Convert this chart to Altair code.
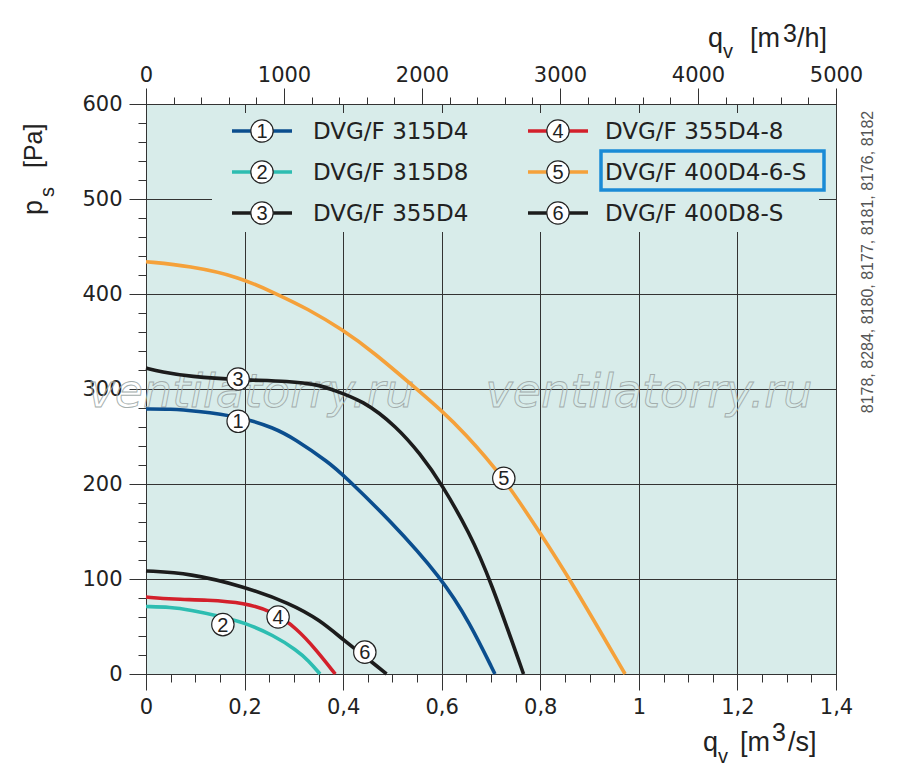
import altair as alt
import pandas as pd

# ---------------- data ----------------
names = ["DVG/F 315D4", "DVG/F 315D8", "DVG/F 355D4",
         "DVG/F 355D4-8", "DVG/F 400D4-6-S", "DVG/F 400D8-S"]
nums = ["1", "2", "3", "4", "5", "6"]
colors = ["#0b4e8e", "#2dbdb1", "#1c1c1c", "#d3202b", "#f5a13a", "#1c1c1c"]

q1 = [0, 0.05, 0.1, 0.19, 0.26, 0.3, 0.373, 0.4, 0.495, 0.6, 0.657, 0.708]
p1 = [279, 279, 277, 271, 259, 248, 222, 209.5, 162, 101, 54, 0]
q2 = [0, 0.05, 0.089, 0.15, 0.2, 0.258, 0.306, 0.33, 0.353]
p2 = [71, 70.5, 67.5, 61, 54, 41, 25, 14, 0]
q3 = [0, 0.03, 0.089, 0.19, 0.292, 0.353, 0.373, 0.441, 0.509, 0.556, 0.6, 0.657, 0.698, 0.766]
p3 = [322, 318, 313, 309.5, 308.5, 304, 300, 288, 260, 232, 200, 148, 100, 0]
q4 = [0, 0.055, 0.123, 0.2, 0.258, 0.306, 0.346, 0.384]
p4 = [81, 78.6, 78, 75, 65.6, 48, 25, 0]
q5 = [0, 0.089, 0.19, 0.265, 0.326, 0.4, 0.461, 0.549, 0.6, 0.644, 0.725, 0.8, 0.86, 0.972]
p5 = [434, 429.5, 418, 400, 385, 362, 339, 300, 277, 255, 207.5, 148, 100, 0]
q6 = [0, 0.089, 0.2, 0.292, 0.353, 0.4, 0.461, 0.488]
p6 = [108.5, 106, 92, 74.4, 56.8, 36, 11.5, 0]

# curve label markers (circled numbers on the curves)
lab_q = [0.187, 0.156, 0.187, 0.268, 0.726, 0.444]
lab_p = [266, 52, 310.5, 60, 206, 23]

# tick values
x_ticks = [round(i * 0.05, 2) for i in range(29)]      # m3/s
y_ticks = list(range(0, 601, 20))                        # Pa
top_ticks = list(range(0, 5001, 200))                    # m3/h

BG = "#d8ecea"
INK = "#222222"
W, H = 690, 570
QMAX, PMAX = 1.4, 600

# ---------------- tables ----------------
curves = []
for name, qs, ps in zip(names, [q1, q2, q3, q4, q5, q6], [p1, p2, p3, p4, p5, p6]):
    for i, (q, p) in enumerate(zip(qs, ps)):
        curves.append({"name": name, "q": q, "p": p, "i": i})
curves = pd.DataFrame(curves)

labels = pd.DataFrame({"name": names, "num": nums, "q": lab_q, "p": lab_p})


# legend layout (pixel layout inside plot, converted to data units)
def qx(px):
    return px * QMAX / W


def pp(py):
    return PMAX - py * PMAX / H


row_px = [27, 68, 109]
col_line = [(86, 146), (382, 442)]
col_circ = [116, 412]
col_text = [167, 459]
leg = []
for k, (name, num) in enumerate(zip(names, nums)):
    c, r = k // 3, k % 3
    leg.append({"name": name, "num": num,
                "x1": qx(col_line[c][0]), "x2": qx(col_line[c][1]),
                "xc": qx(col_circ[c]), "xt": qx(col_text[c]), "p": pp(row_px[r])})
leg = pd.DataFrame(leg)

# ---------------- scales / axes ----------------
xs = alt.Scale(domain=[0, QMAX], nice=False, zero=False)
ys = alt.Scale(domain=[0, PMAX], nice=False, zero=False)
cs = alt.Scale(domain=names, range=colors)

x_major = "round(datum.value*100) % 20 === 0"
y_major = "datum.value % 100 === 0"
t_major = "datum.value % 1000 === 0"

x_axis = alt.Axis(
    orient="bottom", title=None, values=x_ticks, grid=True,
    gridColor="#333333", gridWidth=1,
    gridOpacity={"condition": {"test": x_major, "value": 1}, "value": 0},
    tickSize={"condition": {"test": x_major, "value": 16}, "value": 8},
    tickColor="#333333", tickWidth=1, domainColor="#333333", domainWidth=1,
    labelExpr=x_major + " ? replace(format(datum.value, '~g'), '.', ',') : ''",
    labelFont="DejaVu Sans", labelFontSize=21, labelColor=INK,
    labelPadding=6, labelOverlap=False, labelFlush=False,
)
y_axis = alt.Axis(
    orient="left", title=None, values=y_ticks, grid=True,
    gridColor="#333333", gridWidth=1,
    gridOpacity={"condition": {"test": y_major, "value": 1}, "value": 0},
    tickSize={"condition": {"test": y_major, "value": 17}, "value": 8},
    tickColor="#333333", tickWidth=1, domainColor="#333333", domainWidth=1,
    labelExpr=y_major + " ? format(datum.value, 'd') : ''",
    labelFont="DejaVu Sans", labelFontSize=21, labelColor=INK,
    labelPadding=7, labelOverlap=False, labelFlush=False,
)
top_axis = alt.Axis(
    orient="top", title=None, values=top_ticks, grid=False,
    tickSize={"condition": {"test": t_major, "value": 16}, "value": 7},
    tickColor="#333333", tickWidth=1, domainColor="#333333", domainWidth=1,
    labelExpr=t_major + " ? format(datum.value, 'd') : ''",
    labelFont="DejaVu Sans", labelFontSize=21, labelColor=INK,
    labelPadding=3, labelOverlap=False, labelFlush=False,
)


def X(f):
    return alt.X(f, type="quantitative", scale=xs, axis=x_axis)


def Y(f):
    return alt.Y(f, type="quantitative", scale=ys, axis=y_axis)


one = pd.DataFrame({"a": [0]})


def txt(s, x, y, size, font="Liberation Sans", angle=0, align="left",
        baseline="alphabetic", color=INK, **kw):
    props = dict(text=s, fontSize=size, font=font, align=align,
                 baseline=baseline, color=color, **kw)
    if angle:
        props["angle"] = angle
    return alt.Chart(one).mark_text(**props).encode(x=alt.value(x), y=alt.value(y))


# ---------------- layers ----------------
watermarks = [
    alt.Chart(one).mark_text(text="ventilatorry.ru", fontSize=46, font="DejaVu Sans",
                             fontStyle="italic", align="center", baseline="middle",
                             fillOpacity=0, stroke="#a3adac", strokeWidth=0.9)
    .encode(x=alt.value(xp), y=alt.value(289))
    for xp in [105, 503]
]

lines = alt.Chart(curves).mark_line(strokeWidth=3.6, interpolate="basis").encode(
    x=X("q"), y=Y("p"),
    color=alt.Color("name:N", scale=cs, legend=None),
    order="i:Q",
)

leg_bg = alt.Chart(one).mark_rect(fill=BG, strokeWidth=0).encode(
    x=alt.value(66), x2=alt.value(673), y=alt.value(9), y2=alt.value(128))

leg_lines = alt.Chart(leg).mark_rule(strokeWidth=3.6).encode(
    x=X("x1"), x2="x2", y=Y("p"), color=alt.Color("name:N", scale=cs, legend=None))
leg_circ = alt.Chart(leg).mark_point(shape="circle", filled=True, fill="white",
                                     stroke=INK, strokeWidth=1.2, size=500, opacity=1).encode(
    x=X("xc"), y=Y("p"))
leg_num = alt.Chart(leg).mark_text(font="Liberation Sans", fontSize=20, color=INK,
                                   align="center", baseline="middle", dy=1).encode(
    x=X("xc"), y=Y("p"), text="num:N")
leg_txt = alt.Chart(leg).mark_text(font="DejaVu Sans", fontSize=23, color=INK,
                                   align="left", baseline="middle", dy=1).encode(
    x=X("xt"), y=Y("p"), text="name:N")

hl_box = alt.Chart(one).mark_rect(fillOpacity=0, stroke="#1a8bd6", strokeWidth=3.5).encode(
    x=alt.value(455), x2=alt.value(678), y=alt.value(47), y2=alt.value(86))

lab_circ = alt.Chart(labels).mark_point(shape="circle", filled=True, fill="white",
                                        stroke=INK, strokeWidth=1.2, size=500, opacity=1).encode(
    x=X("q"), y=Y("p"))
lab_num = alt.Chart(labels).mark_text(font="Liberation Sans", fontSize=20, color=INK,
                                      align="center", baseline="middle", dy=1).encode(
    x=X("q"), y=Y("p"), text="num:N")

# axis titles with sub/superscripts (positions relative to plot origin)
titles = [
    # top: q_v [m^3/h]
    txt("q", 562, -57, 27), txt("v", 577, -46, 20), txt("[m", 604, -57, 27),
    txt("3", 637, -62, 25), txt("/h]", 651, -57, 27),
    # bottom: q_v [m^3/s]
    txt("q", 557, 647, 27), txt("v", 572, 659, 20), txt("[m", 594, 647, 27),
    txt("3", 626, 637, 25), txt("/s]", 642, 647, 27),
    # left: p_s [Pa]
    txt("p", -104, 111, 27, angle=270), txt("s", -92, 93, 20, angle=270),
    txt("[Pa]", -104, 64, 25, angle=270),
    # right side reference numbers
    txt("8178, 8284, 8180, 8177, 8181, 8176, 8182", 722, 158, 16,
        angle=270, align="center", baseline="middle", color="#555555"),
]

main = alt.layer(*watermarks, lines, leg_bg, leg_lines, leg_circ, leg_num, leg_txt,
                 hl_box, lab_circ, lab_num, *titles)

top = alt.Chart(pd.DataFrame({"m3h": top_ticks})).mark_point(opacity=0).encode(
    x=alt.X("m3h:Q", scale=alt.Scale(domain=[0, 5000], nice=False, zero=False), axis=top_axis))

chart = alt.layer(main, top).resolve_scale(x="independent").properties(
    width=W, height=H,
    autosize=alt.AutoSizeParams(type="none"),
    padding={"left": 138, "top": 96, "right": 50, "bottom": 100},
).configure_view(fill=BG, stroke="#333333", strokeWidth=1)

chart.save("out.html", embed_options={"renderer": "svg", "actions": False})
